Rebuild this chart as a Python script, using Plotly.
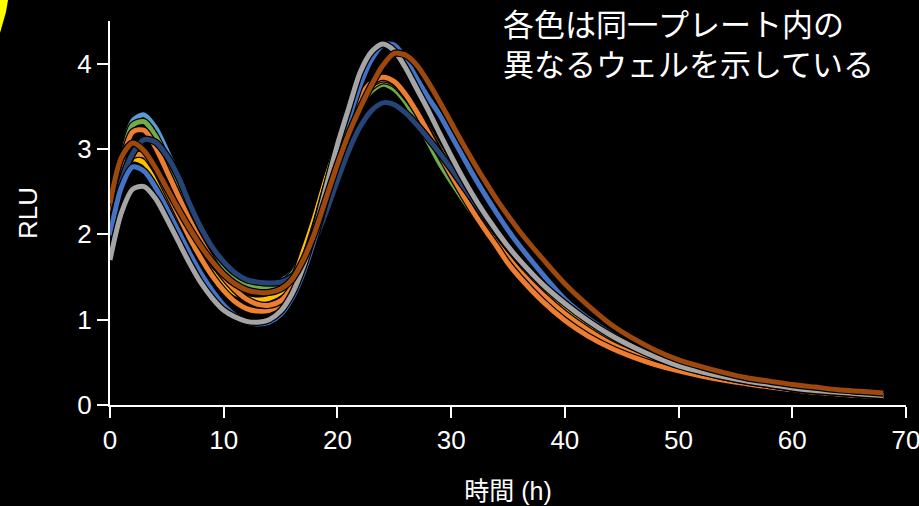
import plotly.graph_objects as go

# time (h)
hours = list(range(0, 37)) + list(range(38, 69, 2))

light_blue = [2.08, 2.88, 3.33, 3.40, 3.25, 2.98, 2.68, 2.38, 2.08, 1.84, 1.66, 1.53, 1.46, 1.43, 1.42, 1.45,
              1.55, 1.80, 2.15, 2.55, 2.94, 3.27, 3.52, 3.69, 3.77, 3.72, 3.58, 3.38, 3.15, 2.92, 2.70, 2.49,
              2.29, 2.11, 1.94, 1.78, 1.63, 1.37, 1.15, 0.96, 0.80, 0.67, 0.56, 0.46, 0.39, 0.33, 0.28, 0.23,
              0.20, 0.17, 0.14, 0.12, 0.10]
green = [2.10, 2.85, 3.28, 3.32, 3.15, 2.88, 2.60, 2.32, 2.03, 1.80, 1.62, 1.49, 1.41, 1.38, 1.38, 1.42,
         1.53, 1.78, 2.13, 2.53, 2.92, 3.25, 3.50, 3.68, 3.76, 3.70, 3.55, 3.33, 3.08, 2.83, 2.62, 2.42,
         2.23, 2.05, 1.88, 1.72, 1.57, 1.30, 1.07, 0.88, 0.73, 0.61, 0.51, 0.43, 0.36, 0.30, 0.26, 0.22,
         0.19, 0.16, 0.14, 0.12, 0.10]
yellow = [2.05, 2.62, 2.88, 2.84, 2.66, 2.42, 2.17, 1.94, 1.73, 1.55, 1.41, 1.31, 1.25, 1.23, 1.25, 1.32,
          1.45, 1.80, 2.20, 2.65, 3.05, 3.36, 3.58, 3.73, 3.80, 3.76, 3.62, 3.44, 3.23, 3.00, 2.77, 2.55,
          2.34, 2.14, 1.96, 1.79, 1.63, 1.36, 1.13, 0.93, 0.77, 0.64, 0.53, 0.44, 0.37, 0.31, 0.26, 0.22,
          0.19, 0.16, 0.14, 0.12, 0.10]
orange2 = [2.00, 2.60, 2.92, 2.93, 2.76, 2.50, 2.23, 1.96, 1.72, 1.51, 1.34, 1.21, 1.13, 1.10, 1.11, 1.18,
           1.35, 1.66, 2.06, 2.52, 2.97, 3.33, 3.60, 3.76, 3.82, 3.78, 3.64, 3.44, 3.20, 2.96, 2.73, 2.50,
           2.29, 2.09, 1.90, 1.73, 1.57, 1.30, 1.07, 0.88, 0.72, 0.60, 0.50, 0.42, 0.35, 0.30, 0.25, 0.22,
           0.18, 0.16, 0.13, 0.12, 0.10]
orange = [2.12, 2.82, 3.20, 3.22, 3.02, 2.74, 2.45, 2.17, 1.92, 1.70, 1.50, 1.35, 1.24, 1.18, 1.17, 1.22,
          1.38, 1.68, 2.08, 2.55, 3.00, 3.36, 3.62, 3.78, 3.84, 3.79, 3.64, 3.43, 3.19, 2.94, 2.70, 2.47,
          2.25, 2.05, 1.86, 1.66, 1.50, 1.22, 0.99, 0.81, 0.67, 0.56, 0.47, 0.40, 0.34, 0.29, 0.25, 0.21,
          0.18, 0.15, 0.13, 0.11, 0.10]
navy = [2.05, 2.62, 2.95, 3.11, 3.08, 2.92, 2.68, 2.36, 2.08, 1.85, 1.68, 1.55, 1.47, 1.44, 1.43, 1.44,
        1.50, 1.66, 1.92, 2.26, 2.63, 2.98, 3.26, 3.45, 3.54, 3.52, 3.42, 3.28, 3.12, 2.95, 2.77, 2.58,
        2.39, 2.20, 2.02, 1.85, 1.69, 1.43, 1.20, 1.00, 0.84, 0.70, 0.58, 0.48, 0.40, 0.34, 0.29, 0.24,
        0.20, 0.17, 0.15, 0.13, 0.11]
blue = [1.99, 2.55, 2.79, 2.74, 2.55, 2.30, 2.04, 1.78, 1.54, 1.34, 1.17, 1.05, 0.97, 0.95, 0.97, 1.06,
        1.25, 1.55, 1.95, 2.42, 2.90, 3.35, 3.75, 4.05, 4.22, 4.22, 4.05, 3.82, 3.60, 3.40, 3.16, 2.92,
        2.68, 2.46, 2.25, 2.05, 1.87, 1.54, 1.24, 1.02, 0.84, 0.69, 0.57, 0.47, 0.39, 0.33, 0.28, 0.24,
        0.20, 0.17, 0.15, 0.13, 0.11]
gray = [1.70, 2.25, 2.53, 2.56, 2.42, 2.18, 1.92, 1.66, 1.43, 1.25, 1.11, 1.03, 0.98, 0.97, 1.00, 1.10,
        1.30, 1.62, 2.05, 2.55, 3.05, 3.48, 3.90, 4.14, 4.23, 4.15, 3.95, 3.70, 3.45, 3.18, 2.92, 2.67,
        2.44, 2.23, 2.04, 1.86, 1.70, 1.42, 1.19, 0.99, 0.82, 0.68, 0.56, 0.46, 0.39, 0.33, 0.28, 0.24,
        0.20, 0.17, 0.15, 0.13, 0.11]
brown = [2.36, 2.90, 3.07, 2.98, 2.78, 2.54, 2.30, 2.07, 1.86, 1.68, 1.53, 1.42, 1.35, 1.32, 1.32, 1.36,
         1.47, 1.70, 2.02, 2.42, 2.82, 3.18, 3.48, 3.75, 3.98, 4.12, 4.10, 3.98, 3.78, 3.55, 3.31, 3.07,
         2.84, 2.62, 2.41, 2.22, 2.04, 1.72, 1.42, 1.17, 0.95, 0.78, 0.64, 0.53, 0.45, 0.38, 0.32, 0.28,
         0.24, 0.21, 0.18, 0.16, 0.14]

series = [
    (light_blue, "#5B9BD5"),
    (green, "#70AD47"),
    (yellow, "#FFC000"),
    (orange2, "#EE822F"),
    (orange, "#ED7D31"),
    (navy, "#264478"),
    (blue, "#4472C4"),
    (gray, "#A5A5A5"),
    (brown, "#9E480E"),
]

x_ticks = [0, 10, 20, 30, 40, 50, 60, 70]
y_ticks = [0, 1, 2, 3, 4]

fig = go.Figure()
for vals, col in series:
    fig.add_trace(go.Scatter(x=hours, y=vals, mode="lines",
                             line=dict(color="black", width=7.5, shape="spline", smoothing=0.8),
                             hoverinfo="skip", showlegend=False))
    fig.add_trace(go.Scatter(x=hours, y=vals, mode="lines",
                             line=dict(color=col, width=5, shape="spline", smoothing=0.8),
                             showlegend=False))

axis_font = dict(family="Liberation Sans, Arial, sans-serif", size=26, color="white")

fig.update_layout(
    width=919, height=506,
    margin=dict(l=110, r=13, t=21, b=101, autoexpand=False),
    paper_bgcolor="black", plot_bgcolor="black",
    showlegend=False,
    xaxis=dict(range=[0, 70], tickvals=x_ticks, ticks="outside", ticklen=11, tickwidth=2,
               tickcolor="white", showline=True, linecolor="white", linewidth=2,
               showgrid=False, zeroline=False, tickfont=axis_font, ticklabeloverflow="allow",
               automargin=False,
               title=dict(text="時間 (h)", font=dict(family="Liberation Sans, Noto Sans CJK JP, sans-serif",
                                                   size=25, color="white"), standoff=28)),
    yaxis=dict(range=[0, 4.5], tickvals=y_ticks, ticks="outside", ticklen=11, tickwidth=2,
               tickcolor="white", showline=True, linecolor="white", linewidth=2,
               showgrid=False, zeroline=False, tickfont=axis_font, automargin=False,
               title=dict(text="RLU", font=axis_font, standoff=32)),
    annotations=[dict(
        text="各色は同一プレート内の<br>異なるウェルを示している",
        xref="paper", yref="paper", x=0.491, y=1.06, xanchor="left", yanchor="top",
        align="left", showarrow=False,
        font=dict(family="Noto Sans CJK JP, sans-serif", size=31, color="white"))],
    shapes=[dict(type="path", xref="paper", yref="paper",
                 path="M -0.1382,1.0547 L -0.1281,1.0547 L -0.1307,1.0234 L -0.1382,0.9688 Z",
                 fillcolor="#FFFF00", line=dict(width=0))],
)

fig.write_html("out.html")
